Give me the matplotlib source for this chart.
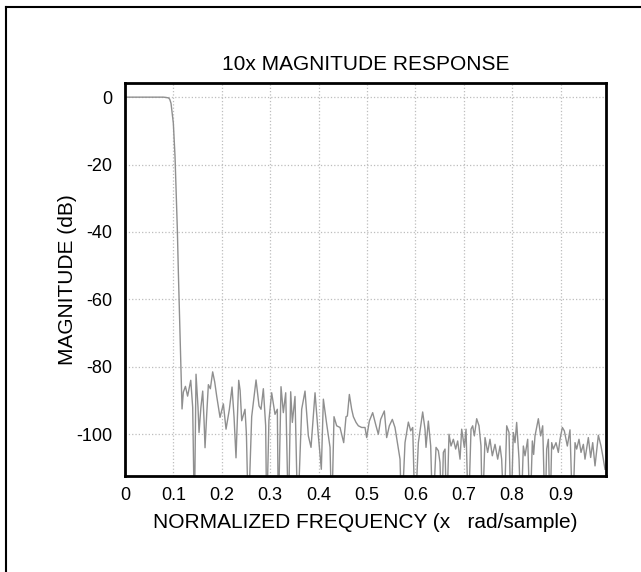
import matplotlib
matplotlib.use('AGG')

import matplotlib.pyplot as plt
from matplotlib.lines import Line2D

plt.rcParams['font.family'] = ['Liberation Sans', 'DejaVu Sans']

NULL = -125.0  # deep nulls, clipped by the axes bottom

# normalized frequency (x pi rad/sample)
freq = [0.000, 0.020, 0.040, 0.060, 0.080, 0.0897, 0.0925, 0.0952, 0.1000, 0.1035,
        0.1056, 0.1083, 0.1104, 0.1132, 0.1159, 0.1180, 0.1207, 0.1250, 0.1295, 0.1360,
        0.1400, 0.1435, 0.1469, 0.1510, 0.1531, 0.1570, 0.1607, 0.1635, 0.1655, 0.1690,
        0.1724, 0.1765, 0.1813, 0.1855, 0.1896, 0.1965, 0.2034, 0.2089, 0.2158, 0.2213,
        0.2255, 0.2295, 0.2325, 0.2351, 0.2380, 0.2413, 0.2481, 0.2510, 0.2550, 0.2619,
        0.2709, 0.2771, 0.2812, 0.2860, 0.2908, 0.2929, 0.2975, 0.3032, 0.3101, 0.3149,
        0.3170, 0.3225, 0.3273, 0.3322, 0.3377, 0.3425, 0.3459, 0.3514, 0.3570, 0.3652,
        0.3721, 0.3790, 0.3845, 0.3928, 0.3997, 0.4058, 0.4100, 0.4169, 0.4238, 0.4272,
        0.4320, 0.4375, 0.4444, 0.4520, 0.4568, 0.4596, 0.4637, 0.4685, 0.4720, 0.4775,
        0.4823, 0.4892, 0.4961, 0.4995, 0.5050, 0.5119, 0.5188, 0.5236, 0.5284, 0.5360,
        0.5408, 0.5463, 0.5525, 0.5580, 0.5629, 0.5684, 0.5718, 0.5787, 0.5856, 0.5904,
        0.5946, 0.5994, 0.6063, 0.6152, 0.6200, 0.6221, 0.6269, 0.6318, 0.6359, 0.6428,
        0.6476, 0.6510, 0.6545, 0.6579, 0.6614, 0.6648, 0.6696, 0.6738, 0.6786, 0.6834,
        0.6875, 0.6924, 0.6958, 0.7013, 0.7048, 0.7096, 0.7151, 0.7185, 0.7220, 0.7268,
        0.7316, 0.7357, 0.7385, 0.7440, 0.7495, 0.7543, 0.7591, 0.7647, 0.7702, 0.7750,
        0.7784, 0.7833, 0.7888, 0.7936, 0.7977, 0.8025, 0.8060, 0.8094, 0.8143, 0.8184,
        0.8232, 0.8267, 0.8322, 0.8370, 0.8418, 0.8445, 0.8473, 0.8542, 0.8590, 0.8632,
        0.8680, 0.8714, 0.8749, 0.8783, 0.8818, 0.8852, 0.8907, 0.8955, 0.8990, 0.9038,
        0.9079, 0.9114, 0.9141, 0.9196, 0.9251, 0.9300, 0.9334, 0.9382, 0.9424, 0.9472,
        0.9506, 0.9575, 0.9623, 0.9665, 0.9713, 0.9782, 0.9837, 0.9885, 0.9919]

# magnitude in dB at those frequencies
mag_db = [0.0, 0.0, 0.0, 0.0, 0.0, -0.2, -0.6, -1.8, -7.7, -17.6,
          -27.5, -39.3, -52.0, -67.0, -81.7, -92.5, -87.5, -85.8, -88.7, -84.0,
          -92.0, NULL, -82.2, -92.0, -99.5, -92.0, -87.2, -96.0, -104.0, -94.0,
          -85.3, -86.5, -81.5, -84.5, -88.7, -95.0, -91.0, -98.5, -92.6, -86.0,
          -95.0, -107.0, -95.0, -84.0, -87.0, -96.0, -92.6, -100.0, NULL, -94.8,
          -83.9, -91.6, -92.6, -86.5, -97.5, NULL, -96.0, -87.7, -94.1, -92.6,
          NULL, -85.9, -93.6, -87.7, NULL, -87.4, -96.5, -88.8, NULL, -92.6,
          -87.2, -100.5, -103.9, -87.7, -100.5, -110.4, -89.6, -97.0, -103.9, NULL,
          -94.8, -97.5, -98.0, -102.5, -94.8, -94.6, -88.2, -92.6, -94.8, -96.5,
          -97.5, -98.0, -98.0, -101.0, -96.1, -93.6, -97.5, -100.0, -95.6, -93.1,
          -101.0, -97.5, -95.6, -98.0, -102.5, -107.4, NULL, -102.5, -96.4, -99.0,
          -98.0, NULL, -102.5, -93.4, -98.5, -103.9, -96.1, -103.5, NULL, -103.9,
          -104.9, -108.4, NULL, -105.4, -104.4, NULL, -100.0, -103.5, -101.5, -104.4,
          -102.0, -107.4, -98.5, -103.9, -98.5, NULL, -98.5, -97.5, -100.5, -95.4,
          -97.5, -103.5, NULL, -101.0, -105.4, -101.5, -106.4, -103.0, -107.4, -103.5,
          -107.4, NULL, -97.5, -99.5, NULL, -99.5, -102.5, -96.5, -107.4, NULL,
          -103.5, -106.4, -101.5, NULL, -102.0, -106.0, -100.5, -95.4, -100.5, -97.5,
          NULL, -104.4, -101.5, NULL, -102.5, -104.4, -102.5, -105.4, -101.5, -98.0,
          -99.0, -101.5, -103.5, -98.7, NULL, -102.5, -104.4, -101.5, -105.4, -103.0,
          -107.4, -101.0, -106.9, -102.5, -109.4, -100.3, -103.5, -107.4, -110.4]

xticks = [0, 0.1, 0.2, 0.3, 0.4, 0.5, 0.6, 0.7, 0.8, 0.9]
xticklabels = ['0', '0.1', '0.2', '0.3', '0.4', '0.5', '0.6', '0.7', '0.8', '0.9']
yticks = [0, -20, -40, -60, -80, -100]
yticklabels = ['0', '-20', '-40', '-60', '-80', '-100']

fig = plt.figure(figsize=(6.41, 5.72), dpi=100)
ax = fig.add_axes([0.1949, 0.1678, 0.7505, 0.6871])

ax.plot(freq, mag_db, color='#8f8f8f', lw=1.0)

ax.set_xlim(0, 0.994)
ax.set_ylim(-112.4, 4.2)
ax.set_xticks(xticks)
ax.set_xticklabels(xticklabels)
ax.set_yticks(yticks)
ax.set_yticklabels(yticklabels)
ax.tick_params(length=0, labelsize=13, colors='black')
ax.tick_params(axis='x', pad=8)
ax.tick_params(axis='y', pad=9)

ax.grid(True, linestyle=':', color='#bdbdbd', lw=0.9)
for s in ax.spines.values():
    s.set_linewidth(2.0)
    s.set_color('black')

ax.set_title('10x MAGNITUDE RESPONSE', fontsize=15, pad=9)
ax.set_xlabel('NORMALIZED FREQUENCY (x   rad/sample)', fontsize=15)
ax.set_ylabel('MAGNITUDE (dB)', fontsize=15)
ax.xaxis.set_label_coords(0.5, -0.095)
ax.yaxis.set_label_coords(-0.10, 0.5)

# outer frame (left and top edges visible in the picture)
fig.add_artist(Line2D([0.0086, 0.0086], [0.0, 0.9886], transform=fig.transFigure,
                      color='black', lw=1.5))
fig.add_artist(Line2D([0.0086, 1.0], [0.9886, 0.9886], transform=fig.transFigure,
                      color='black', lw=1.5))

fig.savefig('out.png', dpi=100)
